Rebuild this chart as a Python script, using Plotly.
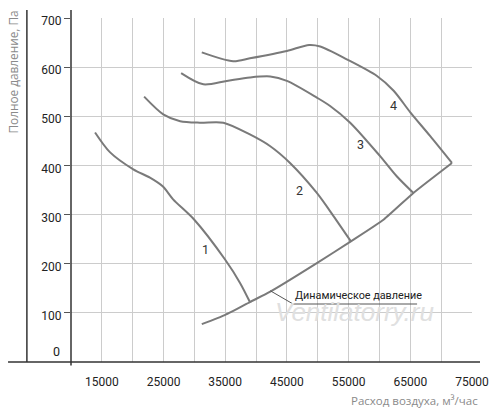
import plotly.graph_objects as go

# Data
curve1_x = [13900, 16300, 20100, 22800, 24900, 26550, 29950, 35000, 37400, 39000]
curve1_y = [467, 427, 392, 375, 357, 331, 290, 208, 161, 122]

curve2_x = [21850, 24950, 27700, 30900, 34700, 39000, 42300, 45500, 49850, 52550, 55400]
curve2_y = [540, 504, 490, 487, 487, 463, 439, 405, 344, 297, 245]

curve3_x = [27850, 31450, 35250, 39000, 42300, 45000, 49850, 52000, 55250, 60100, 62800, 65500]
curve3_y = [588, 565, 572, 579, 581, 572, 538, 521, 487, 419, 378, 344]

curve4_x = [31200, 36300, 39000, 45000, 48600, 50400, 54700, 59600, 62300, 65000, 68200, 71750]
curve4_y = [630, 612, 618, 633, 645, 642, 616, 582, 552, 508, 460, 405]

dyn_x = [31200, 35000, 39000, 42300, 49850, 55300, 60700, 65500, 71750]
dyn_y = [77, 96, 122, 143, 201, 245, 290, 344, 405]

curve_labels = ["1", "2", "3", "4"]
label_x = [31740, 47030, 56880, 62280]
label_y = [229, 348, 443, 521]

x_tickvals = [15000, 20000, 25000, 30000, 35000, 40000, 45000, 50000, 55000, 60000, 65000, 70000, 75000]
x_ticktext = ["15000", "", "25000", "", "35000", "", "45000", "", "55000", "", "65000", "", "75000"]
y_tickvals = [100, 200, 300, 400, 500, 600, 700]
y_ticktext = ["100", "200", "300", "400", "500", "600", "700"]

x_title = "Расход воздуха, м³/час"
y_title = "Полное давление, Па"
dyn_label = "Динамическое давление"
watermark = "Ventilatorry.ru"

NARROW = "Roboto, Liberation Sans, sans-serif"
REG = "Open Sans, Liberation Sans, sans-serif"
LINE = "#7a7a7a"

fig = go.Figure()

# watermark first (below lines)
fig.add_annotation(x=56000, y=101, xref="x", yref="y", text=watermark, showarrow=False,
                   font=dict(family="Liberation Sans, sans-serif", size=26, color="#e0e0e0", style="italic"))

for cx, cy in [(curve1_x, curve1_y), (curve2_x, curve2_y), (curve3_x, curve3_y), (curve4_x, curve4_y)]:
    fig.add_trace(go.Scatter(x=cx, y=cy, mode="lines", line=dict(color=LINE, width=2, shape="spline", smoothing=0.8),
                             hoverinfo="skip", showlegend=False))

fig.add_trace(go.Scatter(x=dyn_x, y=dyn_y, mode="lines", line=dict(color=LINE, width=2, shape="spline", smoothing=0.5),
                         hoverinfo="skip", showlegend=False))

# leader line for dynamic pressure label
fig.add_trace(go.Scatter(x=[42300, 46000, 66100], y=[145, 118, 118], mode="lines",
                         line=dict(color="#555555", width=1), hoverinfo="skip", showlegend=False))

fig.add_annotation(x=56600, y=118, xref="x", yref="y", text=dyn_label, showarrow=False, yanchor="bottom", yshift=0,
                   font=dict(family=NARROW, size=10.8, color="#222222"))

for t, lx, ly in zip(curve_labels, label_x, label_y):
    fig.add_annotation(x=lx, y=ly, xref="x", yref="y", text=t, showarrow=False,
                       font=dict(family=NARROW, size=12.5, color="#333333"))

# zero label
fig.add_annotation(x=0, y=0, xref="paper", yref="y", text="0", showarrow=False, xanchor="right", yanchor="bottom",
                   xshift=-9, yshift=1, font=dict(family=NARROW, size=12.5, color="#222222"))

# axis titles
fig.add_annotation(x=1.02, y=0, xref="paper", yref="paper", text=x_title, showarrow=False,
                   xanchor="right", yanchor="top", yshift=-29,
                   font=dict(family=REG, size=11.5, color="#8a8a8a"))
fig.add_annotation(x=0, y=1, xref="paper", yref="paper", text=y_title, showarrow=False, textangle=-90,
                   xanchor="center", yanchor="top", xshift=-59, yshift=9,
                   font=dict(family=REG, size=11.8, color="#8a8a8a"))

# decorative axis lines
fig.add_shape(type="line", xref="paper", yref="paper", x0=-0.157, x1=1.02, y0=0, y1=0,
              line=dict(color="#333333", width=1.5))
fig.add_shape(type="line", xref="paper", yref="paper", x0=-0.11, x1=-0.11, y0=0, y1=1.023,
              line=dict(color="#333333", width=1.5))
fig.add_shape(type="line", xref="paper", yref="paper", x0=0, x1=0, y0=-0.01, y1=1.023,
              line=dict(color="#333333", width=1.5))

fig.update_layout(
    width=500, height=413,
    margin=dict(l=71, r=28, t=18, b=51),
    plot_bgcolor="white", paper_bgcolor="white",
    xaxis=dict(range=[10000, 75000], tickvals=x_tickvals, ticktext=x_ticktext,
               showgrid=True, gridcolor="#cccccc", gridwidth=1, zeroline=False,
               showline=False, ticks="", ticklabelstandoff=11,
               tickfont=dict(family=NARROW, size=12, color="#222222")),
    yaxis=dict(range=[0, 700], tickvals=y_tickvals, ticktext=y_ticktext,
               showgrid=True, gridcolor="#cccccc", gridwidth=1, zeroline=False,
               showline=False, ticks="outside", ticklen=6, tickcolor="#555555", ticklabelshift=3,
               tickfont=dict(family=NARROW, size=12, color="#222222")),
)

# remove the default 8px page margin so the figure fills the window exactly
fig.write_html("out.html", config={"displayModeBar": False},
               post_script="document.body.style.margin='0';")
